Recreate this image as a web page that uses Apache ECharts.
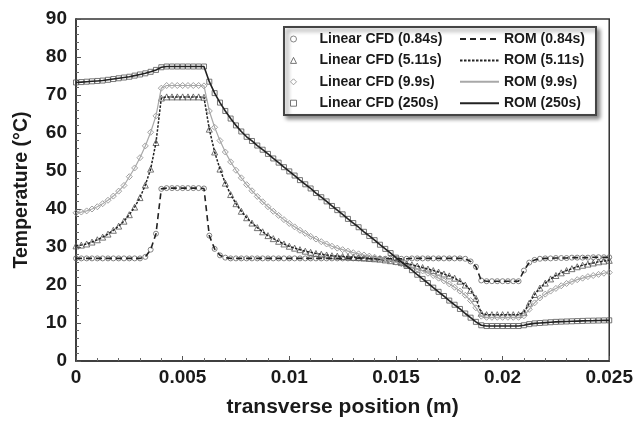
<!DOCTYPE html>
<html>
<head>
<meta charset="utf-8">
<script src="https://cdn.jsdelivr.net/npm/echarts@6/dist/echarts.min.js"></script>
<style>
html,body{margin:0;padding:0;background:#fff;}
#chart{width:636px;height:423px;}
</style>
</head>
<body>
<div id="chart"></div>
<script>
// transverse position in mm (converted to m below)
const positionsMm = [
0,0.25,0.5,0.75,1,1.25,1.5,1.75,2,2.25,
2.5,2.75,3,3.25,3.5,3.75,4,4.25,4.5,4.75,
5,5.25,5.5,5.75,6,6.25,6.5,6.75,7,7.25,
7.5,7.75,8,8.25,8.5,8.75,9,9.25,9.5,9.75,
10,10.25,10.5,10.75,11,11.25,11.5,11.75,12,12.25,
12.5,12.75,13,13.25,13.5,13.75,14,14.25,14.5,14.75,
15,15.25,15.5,15.75,16,16.25,16.5,16.75,17,17.25,
17.5,17.75,18,18.25,18.5,18.75,19,19.25,19.5,19.75,
20,20.25,20.5,20.75,21,21.25,21.5,21.75,22,22.25,
22.5,22.75,23,23.25,23.5,23.75,24,24.25,24.5,24.75,
25];

const temp084 = [
27.0,27.0,27.0,27.0,27.0,27.0,27.0,27.0,27.0,27.0,
27.0,27.0,27.0,27.4,29.3,33.5,45.3,45.5,45.5,45.5,
45.5,45.5,45.5,45.5,45.4,33.0,29.5,27.8,27.2,27.0,
27.0,27.0,27.0,27.0,27.0,27.0,27.0,27.0,27.0,27.0,
27.0,27.0,27.0,27.0,27.0,27.0,27.0,27.0,27.0,27.0,
27.0,27.0,27.0,27.0,27.0,26.9,26.9,26.9,26.9,26.9,
26.9,26.9,26.9,27.0,27.0,27.0,27.0,27.0,27.0,27.0,
27.0,27.0,27.0,26.9,26.2,24.8,21.2,21.0,21.0,21.0,
21.0,21.0,21.0,21.0,23.8,25.9,26.6,26.9,27.0,27.0,
27.1,27.1,27.1,27.2,27.2,27.2,27.2,27.3,27.3,27.3,
27.3];

const temp511 = [
30.3,30.5,30.8,31.3,31.9,32.6,33.4,34.4,35.5,36.8,
38.5,40.5,43.0,46.3,50.5,57.5,69.2,69.5,69.5,69.5,
69.5,69.5,69.5,69.5,69.4,61.0,55.0,50.5,46.8,43.8,
41.4,39.4,37.7,36.3,35.1,34.0,33.0,32.2,31.5,30.8,
30.2,29.7,29.3,28.9,28.6,28.3,28.1,27.9,27.7,27.6,
27.5,27.4,27.3,27.2,27.1,27.0,26.9,26.8,26.6,26.4,
26.2,25.9,25.6,25.3,25.0,24.6,24.2,23.8,23.4,22.9,
22.4,21.8,21.0,20.0,18.6,16.5,12.6,12.2,12.2,12.2,
12.2,12.2,12.2,12.2,12.8,15.2,17.5,19.2,20.5,21.6,
22.5,23.2,23.8,24.3,24.8,25.2,25.5,25.8,26.1,26.3,
26.5];

const temp99 = [
39.0,39.2,39.5,40.0,40.6,41.4,42.3,43.4,44.7,46.2,
48.5,50.8,53.5,56.6,60.2,64.5,71.8,72.5,72.5,72.5,
72.5,72.5,72.5,72.5,72.4,65.8,61.5,58.0,55.0,52.4,
50.2,48.2,46.4,44.8,43.3,41.9,40.6,39.4,38.3,37.2,
36.2,35.3,34.4,33.6,32.8,32.1,31.4,30.8,30.2,29.7,
29.3,28.9,28.5,28.2,27.9,27.6,27.3,27.0,26.7,26.4,
26.0,25.6,25.2,24.7,24.2,23.7,23.1,22.5,21.8,21.1,
20.3,19.4,18.4,17.3,15.9,14.0,11.8,11.5,11.5,11.5,
11.5,11.5,11.5,11.5,11.9,13.6,15.3,16.6,17.6,18.4,
19.1,19.8,20.4,20.9,21.4,21.8,22.2,22.5,22.8,23.1,
23.3];

const temp250 = [
73.3,73.4,73.5,73.6,73.7,73.8,74.0,74.2,74.4,74.6,
74.8,75.1,75.4,75.7,76.1,76.6,77.3,77.5,77.5,77.5,
77.5,77.5,77.5,77.5,77.5,73.5,70.5,68.0,65.8,63.8,
62.0,60.4,59.0,57.9,56.7,55.6,54.5,53.3,52.2,51.0,
49.9,48.8,47.6,46.5,45.4,44.2,43.1,42.0,40.8,39.7,
38.6,37.4,36.3,35.2,34.0,32.9,31.8,30.6,29.5,28.4,
27.2,26.1,25.0,23.9,22.7,21.6,20.5,19.3,18.2,17.1,
15.9,14.8,13.7,12.5,11.4,10.3,9.4,9.2,9.2,9.2,
9.2,9.2,9.2,9.2,9.4,9.7,9.9,10.0,10.1,10.2,
10.3,10.35,10.4,10.45,10.5,10.55,10.6,10.62,10.65,10.68,
10.7];

const cfdNames = ['Linear CFD (0.84s)','Linear CFD (5.11s)','Linear CFD (9.9s)','Linear CFD (250s)'];
const romNames = ['ROM (0.84s)','ROM (5.11s)','ROM (9.9s)','ROM (250s)'];
const xTicks = [0, 0.005, 0.01, 0.015, 0.02, 0.025];
const yTicks = [0, 10, 20, 30, 40, 50, 60, 70, 80, 90];

const FONT = '"Liberation Sans", Arial, sans-serif';
const TXT = '#1a1a1a';

const xs = positionsMm.map(v => v / 1000);
const pairs = arr => arr.map((v, i) => [xs[i], v]);
const allTemps = [temp084, temp511, temp99, temp250];

const markerDefs = [
  {symbol: 'circle', size: 5, color: '#666'},
  {symbol: 'triangle', size: 6, color: '#555'},
  {symbol: 'diamond', size: 6, color: '#8a8a8a'},
  {symbol: 'rect', size: 5, color: '#555'}
];
const lineDefs = [
  {color: '#222', width: 1.6, type: [6, 4]},
  {color: '#222', width: 1.5, type: [2.5, 1.5]},
  {color: '#a8a8a8', width: 1.2, type: 'solid'},
  {color: '#222', width: 1.6, type: 'solid'}
];

const series = [];
allTemps.forEach((arr, k) => {
  const m = markerDefs[k];
  series.push({
    name: cfdNames[k], type: 'scatter', data: pairs(arr),
    symbol: m.symbol, symbolSize: m.size, z: 2, silent: true,
    itemStyle: {color: 'rgba(255,255,255,0)', borderColor: m.color, borderWidth: 1}
  });
});
allTemps.forEach((arr, k) => {
  const l = lineDefs[k];
  series.push({
    name: romNames[k], type: 'line', data: pairs(arr),
    symbol: 'none', z: 3, silent: true,
    color: l.color,
    lineStyle: {color: l.color, width: l.width, type: l.type}
  });
});

const axisCommon = {
  type: 'value',
  axisLine: {show: true, onZero: false, lineStyle: {color: '#333', width: 1.5}},
  axisTick: {show: true, inside: true, length: 5, lineStyle: {color: '#555', width: 1}},
  minorTick: {show: true, splitNumber: 5, length: 3, lineStyle: {color: '#666', width: 1}},
  splitLine: {show: false},
  nameLocation: 'middle'
};

const legendText = {fontSize: 14, fontWeight: 'bold', color: TXT, fontFamily: FONT, lineHeight: 16};

const option = {
  animation: false,
  backgroundColor: '#fff',
  grid: {left: 76, right: 25, top: 19, bottom: 61, show: true, borderColor: '#333', borderWidth: 1.5},
  xAxis: Object.assign({}, axisCommon, {
    min: xTicks[0], max: xTicks[xTicks.length - 1], interval: xTicks[1] - xTicks[0],
    name: 'transverse position (m)', nameGap: 36,
    nameTextStyle: {fontSize: 21, fontWeight: 'bold', color: TXT, fontFamily: FONT},
    axisLabel: {margin: 7, fontSize: 19, fontWeight: 'bold', color: TXT, fontFamily: FONT,
      showMinLabel: true, showMaxLabel: true,
      formatter: v => String(parseFloat(v.toFixed(4)))}
  }),
  yAxis: Object.assign({}, axisCommon, {
    min: yTicks[0], max: yTicks[yTicks.length - 1], interval: yTicks[1] - yTicks[0],
    name: 'Temperature (°C)', nameGap: 44,
    nameTextStyle: {fontSize: 19.5, fontWeight: 'bold', color: TXT, fontFamily: FONT},
    axisLabel: {margin: 9, fontSize: 19, fontWeight: 'bold', color: TXT, fontFamily: FONT}
  }),
  graphic: [{
    type: 'rect', z: 1, left: 283, top: 26,
    shape: {width: 312, height: 88},
    style: {fill: '#fff', stroke: '#444', lineWidth: 2,
      shadowBlur: 4, shadowOffsetX: 3, shadowOffsetY: 3, shadowColor: 'rgba(0,0,0,0.45)'}
  }],
  legend: [
    {
      orient: 'vertical', left: 290, top: 31, padding: 0,
      itemWidth: 6, itemHeight: 6, itemGap: 5.4,
      selectedMode: false,
      textStyle: Object.assign({}, legendText, {padding: [0, 0, 0, 18]}),
      data: cfdNames.map((n, k) => ({
        name: n, icon: markerDefs[k].symbol,
        itemStyle: {color: '#fff', borderColor: markerDefs[k].color, borderWidth: 1}
      }))
    },
    {
      orient: 'vertical', left: 459, top: 31, padding: 0,
      itemWidth: 39, itemHeight: 14, itemGap: 5.4,
      selectedMode: false, textStyle: legendText,
      data: romNames.map(n => ({name: n, itemStyle: {opacity: 0, color: 'rgba(0,0,0,0)', borderWidth: 0}}))
    }
  ],
  series: series
};

const chart = echarts.init(document.getElementById('chart'), null, {renderer: 'canvas'});
chart.setOption(option);
</script>
</body>
</html>
